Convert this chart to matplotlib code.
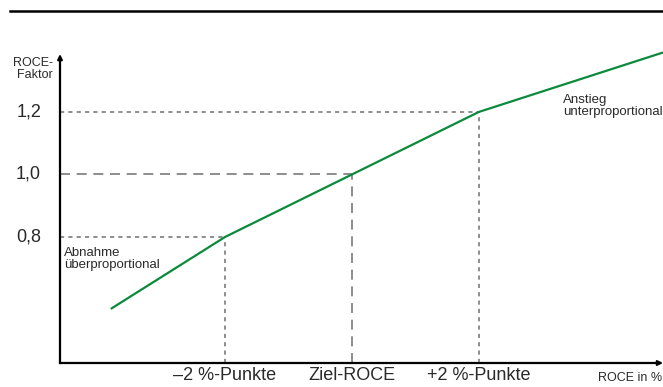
import matplotlib
matplotlib.use("Agg")
import matplotlib.pyplot as plt
import matplotlib.transforms as mtransforms
from matplotlib.lines import Line2D

plt.rcParams['font.family'] = ['Liberation Sans', 'DejaVu Sans']

# ROCE curve (x in %-points relative to target ROCE, y = ROCE factor)
roce_x = [-3.8, -2.0, 0.0, 2.0, 4.9]
factor_y = [0.57, 0.80, 1.00, 1.20, 1.39]

# reference levels and marks
ref_x = [-2.0, 0.0, 2.0]
ref_y = [0.80, 1.00, 1.20]
x_tick_labels = ['\u20132 %-Punkte', 'Ziel-ROCE', '+2 %-Punkte']
y_tick_labels = ['0,8', '1,0', '1,2']

W, H = 663, 387
fig = plt.figure(figsize=(W / 100, H / 100), dpi=100)

x0, x1 = -4.6, 4.9
y0, y1 = 0.397, 1.398
ax = fig.add_axes([60 / W, (H - 363) / H, (W - 60) / W, 313 / H])
ax.set_xlim(x0, x1)
ax.set_ylim(y0, y1)
ax.axis('off')

grey = '#7a7a7a'
axis_col = '#5a5a5a'
text_col = '#2a2a2a'

# dashed guide lines
for xv, yv in zip(ref_x, ref_y):
    ls = (0, (6, 4)) if xv == 0.0 else (0, (2.5, 2.5))
    ax.plot([x0, xv], [yv, yv], color=grey, lw=1.2, linestyle=ls, clip_on=False)
    ax.plot([xv, xv], [y0, yv], color=grey, lw=1.2, linestyle=ls, clip_on=False)

# curve
ax.plot(roce_x, factor_y, color='#0b8a3c', lw=1.6, solid_capstyle='butt')

# axes with arrow heads
arrow = dict(arrowstyle='-|>', color='black', lw=1.5, mutation_scale=7,
             shrinkA=0, shrinkB=0)
ax.annotate('', xy=(x1, y0), xytext=(x0, y0), arrowprops=arrow,
            annotation_clip=False)
ax.annotate('', xy=(x0, 1.385), xytext=(x0, y0), arrowprops=arrow,
            annotation_clip=False)
ax.plot([x0, x1 - 0.05], [y0, y0], color=axis_col, lw=1.6, clip_on=False)
ax.plot([x0, x0], [y0, 1.37], color=axis_col, lw=1.6, clip_on=False)

# tick labels
for xv, lab in zip(ref_x, x_tick_labels):
    ax.text(xv, y0 - 0.012, lab, ha='center', va='top', fontsize=13,
            color=text_col, clip_on=False)
blend = mtransforms.blended_transform_factory(fig.transFigure, ax.transData)
for yv, lab in zip(ref_y, y_tick_labels):
    fig.text(41 / W, yv, lab, ha='right', va='center', fontsize=13,
             color=text_col, transform=blend)

# axis titles
fig.text(53 / W, 1 - 69 / H, 'ROCE-\nFaktor', ha='right', va='center',
         fontsize=9, color=text_col, linespacing=0.9)
fig.text(662 / W, 1 - 378 / H, 'ROCE in %', ha='right', va='center',
         fontsize=9, color=text_col)

# annotations
fig.text(64 / W, 1 - 259 / H, 'Abnahme\n\u00fcberproportional', ha='left',
         va='center', fontsize=9.5, color=text_col, linespacing=0.9)
fig.text(563 / W, 1 - 106 / H, 'Anstieg\nunterproportional', ha='left',
         va='center', fontsize=9.5, color=text_col, linespacing=0.9)

# top rule
fig.add_artist(Line2D([10 / W, 1.0], [1 - 11 / H, 1 - 11 / H], color='black', lw=1.8))

fig.savefig('out.png', dpi=100)
